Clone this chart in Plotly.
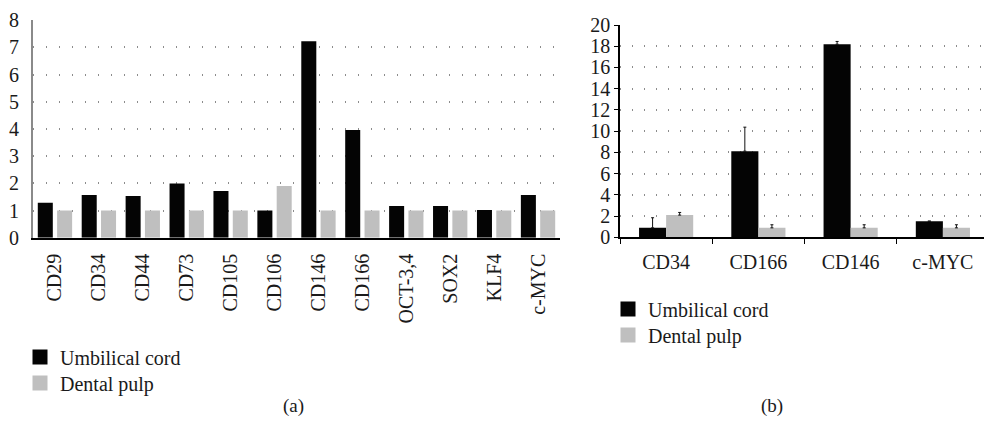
import plotly.graph_objects as go

# Panel (a): relative expression of surface and pluripotency markers
markers_a = ["CD29", "CD34", "CD44", "CD73", "CD105", "CD106", "CD146",
             "CD166", "OCT-3,4", "SOX2", "KLF4", "c-MYC"]
cord_a = [1.29, 1.57, 1.53, 1.99, 1.72, 1.0, 7.23, 3.96, 1.17, 1.17, 1.02, 1.57]
pulp_a = [1.0, 1.0, 1.0, 1.0, 1.0, 1.9, 1.0, 1.0, 1.0, 1.0, 1.0, 1.0]

# Panel (b): selected markers with error bars
markers_b = ["CD34", "CD166", "CD146", "c-MYC"]
cord_b = [0.9, 8.12, 18.19, 1.53]
cord_b_err = [0.95, 2.26, 0.26, 0.0]
pulp_b = [2.1, 0.9, 0.9, 0.9]
pulp_b_err = [0.25, 0.29, 0.29, 0.29]

yticks_a = [0, 1, 2, 3, 4, 5, 6, 7, 8]
yticks_b = [0, 2, 4, 6, 8, 10, 12, 14, 16, 18, 20]

series_names = ["Umbilical cord", "Dental pulp"]

W, H = 984, 429
FONT = "Liberation Serif"
BLACK = "#040404"
GREY = "#bfbfbf"
TXT = "#1a1a1a"

fig = go.Figure()

# panel (a) bars
fig.add_trace(go.Bar(x=markers_a, y=cord_a, name=series_names[0],
                     marker=dict(color=BLACK, line=dict(width=0)),
                     width=0.342, offset=-0.391, xaxis="x", yaxis="y",
                     showlegend=False))
fig.add_trace(go.Bar(x=markers_a, y=pulp_a, name=series_names[1],
                     marker=dict(color=GREY, line=dict(width=0)),
                     width=0.342, offset=0.049, xaxis="x", yaxis="y",
                     showlegend=False))

# panel (b) bars with upward error bars
fig.add_trace(go.Bar(x=markers_b, y=cord_b, name=series_names[0],
                     marker=dict(color=BLACK, line=dict(width=0)),
                     width=0.2935, offset=-0.2935, xaxis="x2", yaxis="y2",
                     error_y=dict(type="data", array=cord_b_err, symmetric=False,
                                  arrayminus=[0] * len(cord_b_err),
                                  color="#111", thickness=1, width=1.5),
                     showlegend=False))
fig.add_trace(go.Bar(x=markers_b, y=pulp_b, name=series_names[1],
                     marker=dict(color=GREY, line=dict(width=0)),
                     width=0.2935, offset=0.0, xaxis="x2", yaxis="y2",
                     error_y=dict(type="data", array=pulp_b_err, symmetric=False,
                                  arrayminus=[0] * len(pulp_b_err),
                                  color="#111", thickness=1, width=1.5),
                     showlegend=False))

# one legend per entry so each row sits exactly where wanted
legend_rows = [
    ("legend", series_names[0], BLACK, "x", "y"),
    ("legend2", series_names[1], GREY, "x", "y"),
    ("legend3", series_names[0], BLACK, "x2", "y2"),
    ("legend4", series_names[1], GREY, "x2", "y2"),
]
for lg, nm, col, xa, ya in legend_rows:
    fig.add_trace(go.Scatter(x=[None], y=[None], mode="markers", name=nm,
                             marker=dict(symbol="square", size=15, color=col,
                                         line=dict(width=0)),
                             xaxis=xa, yaxis=ya, legend=lg))

tickfont = dict(family=FONT, size=20, color=TXT)


def legend_box(px_left, px_center_y):
    return dict(x=px_left / W, y=1 - px_center_y / H, xanchor="left",
                yanchor="middle", font=dict(family=FONT, size=20, color=TXT),
                bgcolor="rgba(0,0,0,0)", borderwidth=0, itemclick=False)


fig.update_layout(
    width=W, height=H,
    margin=dict(l=0, r=0, t=0, b=0, autoexpand=False),
    paper_bgcolor="white", plot_bgcolor="white",
    barmode="overlay",
    font=dict(family=FONT, size=20, color=TXT),
    xaxis=dict(domain=[33 / W, 560 / W], type="category",
               categoryorder="array", categoryarray=markers_a,
               range=[-0.5, 11.5], tickangle=-90, tickfont=tickfont,
               showline=True, linecolor="#000", linewidth=2,
               showgrid=False, ticks="", ticklabelstandoff=6),
    yaxis=dict(domain=[1 - 237.7 / H, 1 - 20.3 / H], range=[0, 8],
               tickvals=yticks_a, tickfont=tickfont,
               showline=True, linecolor="#8a8a8a", linewidth=2,
               showgrid=True, gridcolor="#8c8c8c", gridwidth=1.5,
               griddash="1px,12px", zeroline=False, ticks="",
               ticklabelstandoff=8),
    xaxis2=dict(domain=[620 / W, 1.0], type="category",
                categoryorder="array", categoryarray=markers_b,
                range=[-0.5, 3.5 - 5 / 92], tickfont=tickfont,
                showline=True, linecolor="#000", linewidth=2,
                showgrid=False, ticks="outside", ticklen=5, tickwidth=1,
                tickcolor="#000", tickson="boundaries", anchor="y2",
                ticklabelstandoff=6),
    yaxis2=dict(domain=[1 - 237.4 / H, 1 - 25 / H], range=[0, 20],
                tickvals=yticks_b, tickfont=tickfont, anchor="x2",
                showline=True, linecolor="#000", linewidth=1.5,
                showgrid=True, gridcolor="#8c8c8c", gridwidth=1.5,
                griddash="1px,11px", zeroline=False,
                ticks="outside", ticklen=4, tickwidth=1, tickcolor="#000"),
    legend=legend_box(20, 357),
    legend2=legend_box(20, 383),
    legend3=legend_box(608, 309),
    legend4=legend_box(608, 335),
    annotations=[
        dict(text="(a)", x=281 / W, y=1 - 419 / H, xref="paper", yref="paper",
             showarrow=False, font=dict(family=FONT, size=19, color=TXT)),
        dict(text="(b)", x=785 / W, y=1 - 419 / H, xref="paper", yref="paper",
             showarrow=False, font=dict(family=FONT, size=19, color=TXT)),
    ],
)

fig.write_html("out.html")
